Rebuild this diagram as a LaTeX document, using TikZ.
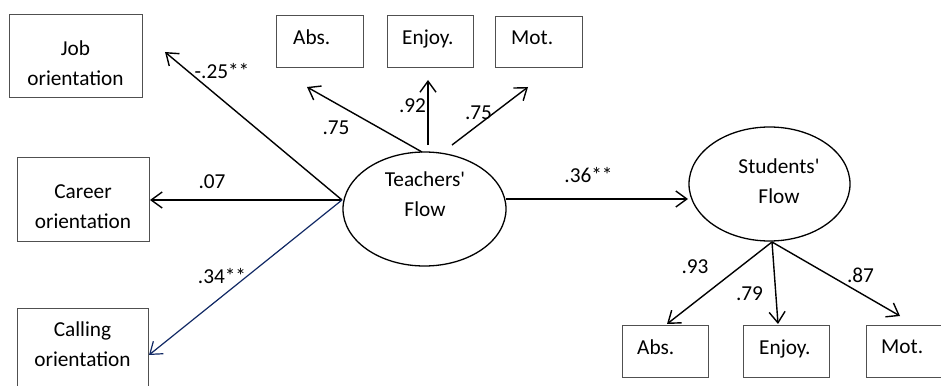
\documentclass[tikz,border=0pt]{standalone}
\usepackage{fontspec}
\setmainfont{Carlito}
\usetikzlibrary{arrows.meta,shapes.geometric}
\definecolor{navyline}{RGB}{16,40,100}
\definecolor{boxgray}{RGB}{80,80,80}
\tikzset{
  txt/.style={inner sep=0pt, font=\fontsize{21.3}{30}\selectfont},
  mtxt/.style={txt, align=center},
  boxnode/.style={draw=boxgray, line width=0.9pt, inner sep=0pt},
  lat/.style={draw=black, line width=1.3pt, ellipse, inner sep=0pt, minimum width=163pt, minimum height=114pt},
  arr/.style={line width=1.4pt, -{Straight Barb[length=11pt,width=16pt,line width=1.4pt]}},
  bluearr/.style={line width=1.2pt, draw=navyline, -{Straight Barb[length=11pt,width=16pt,line width=1.2pt]}}
}
\begin{document}
\begin{tikzpicture}[x=1pt,y=-1pt]
\useasboundingbox (0,0) rectangle (941,385);
\clip (0,0) rectangle (941,385);
% boxes
\node[boxnode, minimum width=133pt, minimum height=83pt] (job) at (75.5,55.5) {};
\node[boxnode, minimum width=132pt, minimum height=84pt] (career) at (83,199) {};
\node[boxnode, minimum width=131pt, minimum height=84pt] (calling) at (82.5,350) {};
\node[boxnode, minimum width=87pt, minimum height=52pt] (tabs) at (319.5,41) {};
\node[boxnode, minimum width=86pt, minimum height=52pt] (tenj) at (430,41) {};
\node[boxnode, minimum width=87pt, minimum height=51pt] (tmot) at (538.5,41.5) {};
\node[boxnode, minimum width=86pt, minimum height=52pt] (babs) at (665,351) {};
\node[boxnode, minimum width=86pt, minimum height=52pt] (benj) at (786,351) {};
\node[boxnode, minimum width=86pt, minimum height=52pt] (bmot) at (909,351) {};
% box texts
\node[mtxt] (jobt) at (75.5,63) {Job\\orientation};
\node[mtxt] (careert) at (83,206.5) {Career\\orientation};
\node[mtxt] (callingt) at (82.5,344) {Calling\\orientation};
\node[txt, anchor=base west] (tabst) at (293,44.5) {Abs.};
\node[txt, anchor=base west] (tenjt) at (402,44.5) {Enjoy.};
\node[txt, anchor=base west] (tmott) at (511,45) {Mot.};
\node[txt, anchor=base west] (babst) at (637,354) {Abs.};
\node[txt, anchor=base west] (benjt) at (759,354) {Enjoy.};
\node[txt, anchor=base west] (bmott) at (881,353) {Mot.};
% latent variables
\node[lat] (tf) at (424.5,209) {};
\node[lat, minimum width=161pt] (sf) at (769.5,184) {};
\node[mtxt] (tft) at (425,194.5) {Teachers\textquotesingle\\Flow};
\node[mtxt] (sft) at (779,181.5) {Students\textquotesingle\\Flow};
% arrow end points
\coordinate (tfL) at (342,200);
\coordinate (jobtip) at (165,52);
\coordinate (careertip) at (150,200);
\coordinate (callingtip) at (149,355);
\coordinate (tabsstart) at (422,152);
\coordinate (tabstip) at (307,87);
\coordinate (tenjstart) at (428,145);
\coordinate (tenjtip) at (428,80);
\coordinate (tmotstart) at (452,145);
\coordinate (tmottip) at (528,87);
\coordinate (tfR) at (506,199);
\coordinate (sftip) at (688,199);
\coordinate (sfB) at (772,242);
\coordinate (babstip) at (667,324);
\coordinate (benjtip) at (778,324);
\coordinate (bmottip) at (900,316);
% arrows
\draw[arr] (tfL) -- (jobtip);
\draw[arr] (tfL) -- (careertip);
\draw[bluearr] (tfL) -- (callingtip);
\draw[arr] (tabsstart) -- (tabstip);
\draw[arr] (tenjstart) -- (tenjtip);
\draw[arr] (tmotstart) -- (tmottip);
\draw[arr] (tfR) -- (sftip);
\draw[arr] (sfB) -- (babstip);
\draw[arr] (sfB) -- (benjtip);
\draw[arr] (sfB) -- (bmottip);
% labels
\node[txt, anchor=base] (l1) at (222,79) {-.25**};
\node[txt, anchor=base] (l2) at (336,135) {.75};
\node[txt, anchor=base] (l3) at (412.5,113) {.92};
\node[txt, anchor=base] (l4) at (478.5,119) {.75};
\node[txt, anchor=base] (l5) at (212,188) {.07};
\node[txt, anchor=base] (l6) at (222,283) {.34**};
\node[txt, anchor=base] (l7) at (588.5,182) {.36**};
\node[txt, anchor=base] (l8) at (695,273) {.93};
\node[txt, anchor=base] (l9) at (749.5,300) {.79};
\node[txt, anchor=base] (l10) at (860.5,282) {.87};
\end{tikzpicture}
\end{document}
